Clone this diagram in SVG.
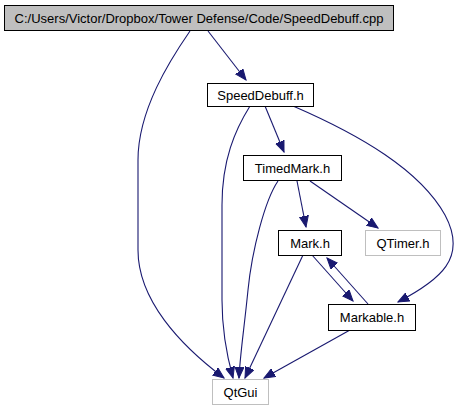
<svg xmlns="http://www.w3.org/2000/svg" width="461" height="411" viewBox="0 0 461 411">
<style>
.node rect{fill:#ffffff;stroke:#000000;stroke-width:1}
.node.root rect{fill:#bfbfbf}
.node.ext rect{stroke:#bfbfbf}
.node text{font-family:"Liberation Sans",Arial,sans-serif;font-size:13px;fill:#000000;text-anchor:middle}
.edges path{fill:none;stroke:#191970;stroke-width:1.1;marker-end:url(#arr)}
</style>
<defs>
<marker id="arr" markerUnits="userSpaceOnUse" markerWidth="12" markerHeight="10" refX="11" refY="5" orient="auto">
<path d="M0,0.5 L11,5 L0,9.5 Z" fill="#191970" stroke="#191970" stroke-width="1"/>
</marker>
</defs>
<rect width="461" height="411" fill="#ffffff"/>
<g class="edges">
<path d="M208,31 L246,80"/>
<path d="M190,31 C170,60 138,110 138,160 L138,250 C138,300 180,345 224,378"/>
<path d="M250,106 C235,130 222,160 222,205 L222,300 C222,330 228,360 233,378"/>
<path d="M265,106 L284,152"/>
<path d="M293,106 C360,135 420,170 445,215 C468,258 440,280 398,302"/>
<path d="M278,181 C265,200 252,250 248,290 C244,330 240,355 239,378"/>
<path d="M297,181 L306,227"/>
<path d="M310,181 L378,228"/>
<path d="M303,255 L245,378"/>
<path d="M312,255 L353,301"/>
<path d="M368,304 L327,258"/>
<path d="M350,330 L264,378"/>
</g>
<g id="node-root" class="node root"><rect x="4.5" y="5.5" width="389" height="25"/><text x="199" y="22.5">C:/Users/Victor/Dropbox/Tower Defense/Code/SpeedDebuff.cpp</text></g>
<g id="node-speeddebuff" class="node"><rect x="207.5" y="83.5" width="106" height="23"/><text x="260.5" y="99.5">SpeedDebuff.h</text></g>
<g id="node-timedmark" class="node"><rect x="243.5" y="155.5" width="98" height="25"/><text x="292.5" y="172.5">TimedMark.h</text></g>
<g id="node-mark" class="node"><rect x="278.5" y="230.5" width="63" height="25"/><text x="310" y="247.5">Mark.h</text></g>
<g id="node-qtimer" class="node ext"><rect x="365.5" y="230.5" width="75" height="25"/><text x="403" y="247.5">QTimer.h</text></g>
<g id="node-markable" class="node"><rect x="328.5" y="304.5" width="87" height="26"/><text x="372" y="322">Markable.h</text></g>
<g id="node-qtgui" class="node ext"><rect x="212.5" y="379.5" width="56" height="25"/><text x="240.5" y="396.5">QtGui</text></g>
</svg>
